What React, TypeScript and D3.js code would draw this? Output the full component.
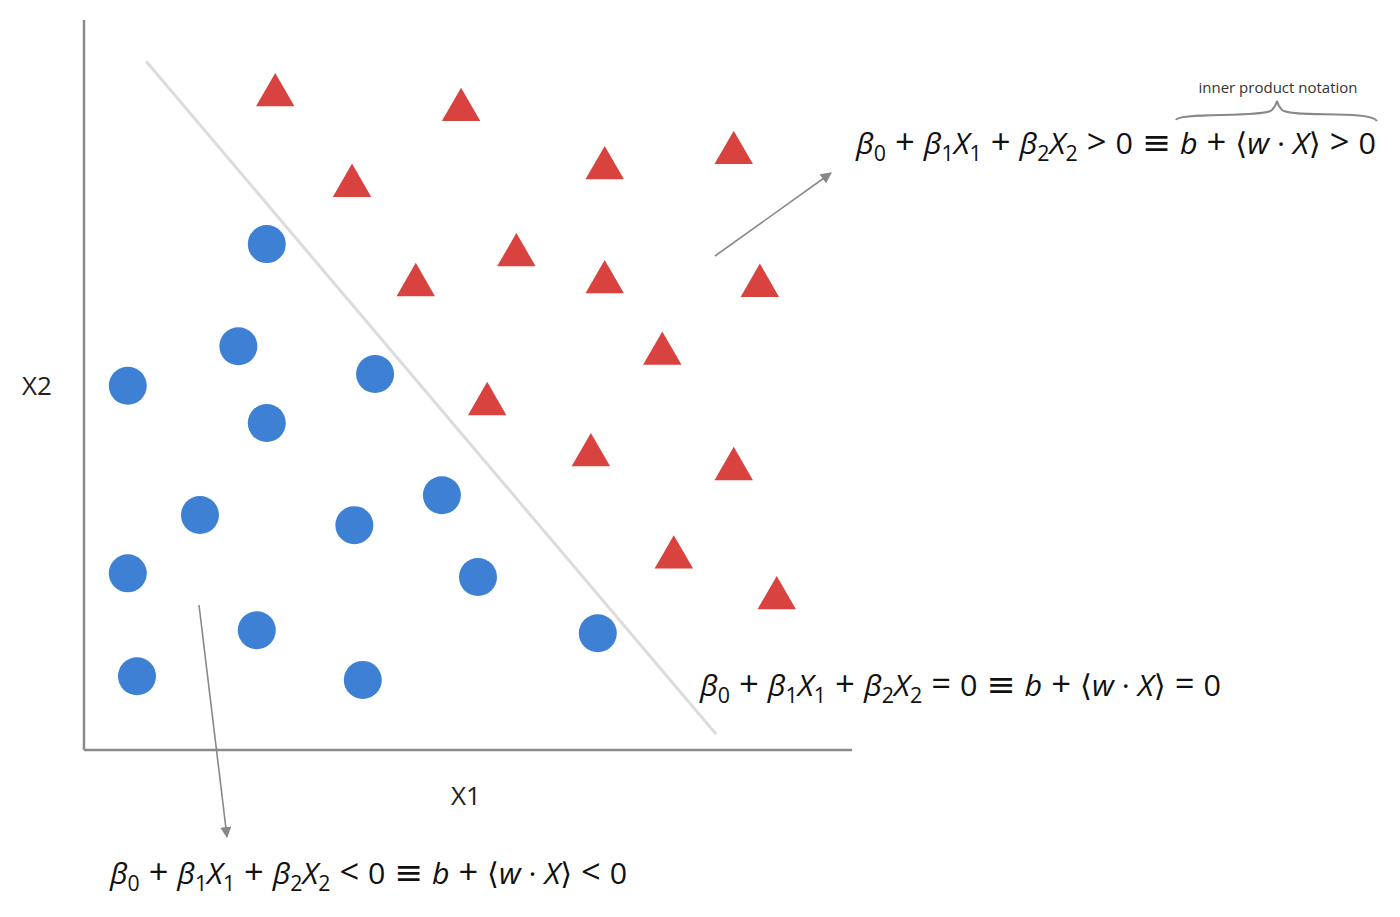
import React from "react";
import * as d3 from "d3";

const circleX = [23.8, 20.1, 5.7, 37.9, 23.8, 15.1, 35.2, 46.6, 5.7, 51.3, 22.5, 66.9, 6.9, 36.3];
const circleY = [69.3, 55.3, 49.9, 51.5, 44.8, 32.2, 30.8, 34.9, 24.2, 23.7, 16.4, 16.0, 10.1, 9.6];
const triX = [24.9, 49.1, 34.9, 67.8, 84.6, 56.3, 43.2, 67.8, 88.0, 75.3, 52.5, 66.0, 84.6, 76.8, 90.2];
const triY = [90.1, 88.1, 77.7, 80.1, 82.2, 68.2, 64.1, 64.5, 64.0, 54.7, 47.8, 40.8, 38.9, 26.8, 21.2];
const boundaryX = [8.2, 82.2];
const boundaryY = [94.2, 2.3];
const axisLabels = ["X1", "X2"];

type Tok = { t: string; i?: boolean; s?: boolean; o?: boolean };
const lhs = (op: string): Tok[] => [
  { t: "β", i: true }, { t: "0", s: true }, { t: " + ", o: true },
  { t: "β", i: true }, { t: "1", s: true }, { t: "X", i: true }, { t: "1", s: true }, { t: " + ", o: true },
  { t: "β", i: true }, { t: "2", s: true }, { t: "X", i: true }, { t: "2", s: true },
  { t: ` ${op} `, o: true }, { t: "0" }, { t: " ≡ ", o: true }, { t: "b", i: true }, { t: " + ", o: true }, { t: "⟨" }, { t: "w", i: true }, { t: " · " },
  { t: "X", i: true }, { t: "⟩" }, { t: ` ${op} `, o: true }, { t: "0" },
];
const formulaTop = lhs(">");
const formulaMid = lhs("=");
const formulaBot = lhs("<");

const W = 1400, H = 917;
const x = d3.scaleLinear().domain([0, 100]).range([84, 852]);
const y = d3.scaleLinear().domain([0, 100]).range([750, 20]);

function Formula({ toks, px, py, len }: { toks: Tok[]; px: number; py: number; len: number }) {
  const out: React.ReactNode[] = [];
  let shifted = false;
  toks.forEach((k, idx) => {
    let dy = 0;
    if (k.s && !shifted) { dy = 7; shifted = true; }
    else if (!k.s && shifted) { dy = -7; shifted = false; }
    out.push(
      <tspan key={idx} dy={dy || undefined} fontStyle={k.i ? "italic" : "normal"} fontSize={k.s ? 21 : k.o ? 34 : 30}>
        {k.t.replace(/ /g, "\u00a0")}
      </tspan>
    );
  });
  return (
    <text x={px} y={py} fontFamily="'Open Sans', 'DejaVu Sans', sans-serif" fill="#111" textLength={len} lengthAdjust="spacingAndGlyphs">
      {out}
    </text>
  );
}

export default function App() {
  const tri = d3.symbol().type(d3.symbolTriangle).size(640);
  return (
    <svg width={W} height={H} style={{ position: "absolute", left: 0, top: 0, background: "#fff" }}>
      <defs>
        <marker id="ah" viewBox="0 0 10 10" refX="9" refY="5" markerWidth="7" markerHeight="7" orient="auto">
          <path d="M0,0 L10,5 L0,10 z" fill="#888" />
        </marker>
      </defs>
      <line x1={x(0)} y1={y(100)} x2={x(0)} y2={y(0)} stroke="#8a8a8a" strokeWidth={2.5} />
      <line x1={x(0)} y1={y(0)} x2={x(100)} y2={y(0)} stroke="#8a8a8a" strokeWidth={2.5} />
      <line x1={x(boundaryX[0])} y1={y(boundaryY[0])} x2={x(boundaryX[1])} y2={y(boundaryY[1])} stroke="#dcdcdc" strokeWidth={3} strokeLinecap="round" />
      {circleX.map((cx, i) => (
        <circle key={"c" + i} cx={x(cx)} cy={y(circleY[i])} r={19} fill="#3e80d3" />
      ))}
      {triX.map((tx, i) => (
        <path key={"t" + i} d={tri() as string} transform={`translate(${x(tx)},${y(triY[i]) + 3})`} fill="#d9433f" />
      ))}
      <line x1={715} y1={256} x2={831} y2={173} stroke="#888" strokeWidth={1.6} markerEnd="url(#ah)" />
      <line x1={199} y1={605} x2={227} y2={837} stroke="#888" strokeWidth={1.6} markerEnd="url(#ah)" />
      <text x={466} y={805} textAnchor="middle" fontFamily="'Open Sans', sans-serif" fontSize={26} fill="#222">{axisLabels[0]}</text>
      <text x={37} y={395} textAnchor="middle" fontFamily="'Open Sans', sans-serif" fontSize={26} fill="#222">{axisLabels[1]}</text>
      <Formula toks={formulaTop} px={856} py={154} len={520} />
      <Formula toks={formulaMid} px={700} py={696} len={521} />
      <Formula toks={formulaBot} px={110} py={884} len={517} />
      <path d="M1176,120 C1178,112 1262,118 1272,110 Q1276,106 1277,101 Q1278,106 1282,110 C1292,118 1370,110 1377,121" fill="none" stroke="#888" strokeWidth={2} />
      <text x={1278} y={93} textAnchor="middle" fontFamily="'Open Sans', sans-serif" fontSize={15} fill="#333">inner product notation</text>
    </svg>
  );
}
